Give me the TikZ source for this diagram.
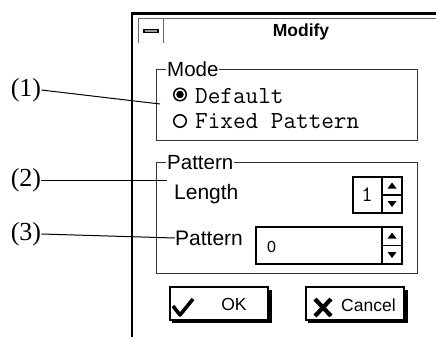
\documentclass[tikz,border=0pt]{standalone}
\usepackage{fontspec}
\setmainfont{Liberation Serif}
\newfontfamily\uisans{Liberation Sans}
\begin{document}
\begin{tikzpicture}[x=1pt,y=-1pt,
  grp/.style={draw=black!80, line width=0.9pt},
  grplabel/.style={fill=white, inner xsep=1pt, inner ysep=0pt, anchor=west, font=\uisans\fontsize{20.5}{20.5}\selectfont},
  uilabel/.style={inner sep=0pt, anchor=west, font=\uisans\fontsize{21}{21}\selectfont},
  monolabel/.style={inner sep=0pt, anchor=west, font=\ttfamily\fontsize{24.5}{24.5}\selectfont},
  callout/.style={inner sep=0pt, font=\fontsize{26}{26}\selectfont},
  pointer/.style={line width=1pt},
  field/.style={draw, line width=1.6pt},
  btn/.style={draw, line width=1.4pt, fill=white, minimum width=98pt, minimum height=33pt, inner sep=0pt},
  shadow/.style={fill=black},
  radio/.style={circle, draw, line width=1.5pt, minimum size=12.5pt, inner sep=0pt},
  btntext/.style={inner sep=0pt, font=\uisans\fontsize{17.5}{17.5}\selectfont}]
\useasboundingbox (0,0) rectangle (436,337);

% window frame and title bar
\draw[line width=2.4pt] (132,13.5) -- (436,13.5);
\draw[line width=1.4pt] (132,12.5) -- (132,337);
\draw[line width=1pt, black!60] (138,19) -- (436,19);
\draw[line width=1pt, black!60] (138,19) -- (138,43);
\draw[line width=1pt, black!60] (163,19) -- (163,43);
\draw[line width=4.2pt, rounded corners=1.5pt] (143,31) -- (159,31);
\draw[line width=1.2pt, black!40] (145,31) -- (157,31);
\node[inner sep=0pt, font=\uisans\bfseries\fontsize{17.5}{17.5}\selectfont] (title) at (301,32) {Modify};

% Mode group
\draw[grp] (156,69) rectangle (417,140);
\node[grplabel] (mode) at (166,69) {Mode};
\node[radio] (rdef) at (180,94.5) {};
\fill (rdef.center) circle (3.8pt);
\node[monolabel] (default) at (195,96) {Default};
\node[radio] (rfix) at (180,121) {};
\node[monolabel] (fixed) at (195,121) {Fixed Pattern};

% Pattern group
\draw[grp] (156,162) rectangle (417,273);
\node[grplabel] (patgrp) at (166,163) {Pattern};
\node[uilabel] (length) at (174,194) {Length};
\node[uilabel] (patlbl) at (175,238) {Pattern};

% length spinner
\draw[field] (353,177) rectangle (402,213);
\draw[line width=1.2pt] (382,177) -- (382,213) (382,195) -- (402,195);
\node[inner sep=0pt, font=\ttfamily\fontsize{22}{22}\selectfont] (lenval) at (367,195) {1};
\fill (392,182.5) -- (396.5,188.5) -- (387.5,188.5) -- cycle;
\fill (392,207) -- (396.5,201) -- (387.5,201) -- cycle;

% pattern field
\draw[field] (256,227) rectangle (402,264);
\draw[line width=1.2pt] (382,227) -- (382,264) (382,245.5) -- (402,245.5);
\node[inner sep=0pt, anchor=west, font=\uisans\fontsize{16}{16}\selectfont] (patval) at (267,246.5) {0};
\fill (392,232.5) -- (396.5,238.5) -- (387.5,238.5) -- cycle;
\fill (392,258) -- (396.5,252) -- (387.5,252) -- cycle;

% buttons
\fill[shadow] (172,290) rectangle (272,323);
\node[btn] (ok) at (219,303.5) {};
\draw[line width=3.6pt, line join=round] (173,306) -- (180,315) -- (193,299);
\node[btntext] (oktext) at (234,304) {OK};
\fill[shadow] (308,290) rectangle (408,323);
\node[btn] (cancel) at (355,303.5) {};
\draw[line width=4.2pt] (315,299) -- (331,316) (331,299) -- (315,316);
\node[btntext, anchor=west] (canceltext) at (341,305) {Cancel};

% callouts
\node[callout] (c1) at (26,90) {(1)};
\node[callout] (c2) at (26,180) {(2)};
\node[callout] (c3) at (26,234) {(3)};
\coordinate (p1) at (160,104);
\coordinate (p2) at (167,180);
\coordinate (p3) at (patlbl.west);
\draw[pointer] (c1.east) -- (p1);
\draw[pointer] (c2.east) -- (p2);
\draw[pointer] (c3.east) -- (p3);
\end{tikzpicture}
\end{document}
